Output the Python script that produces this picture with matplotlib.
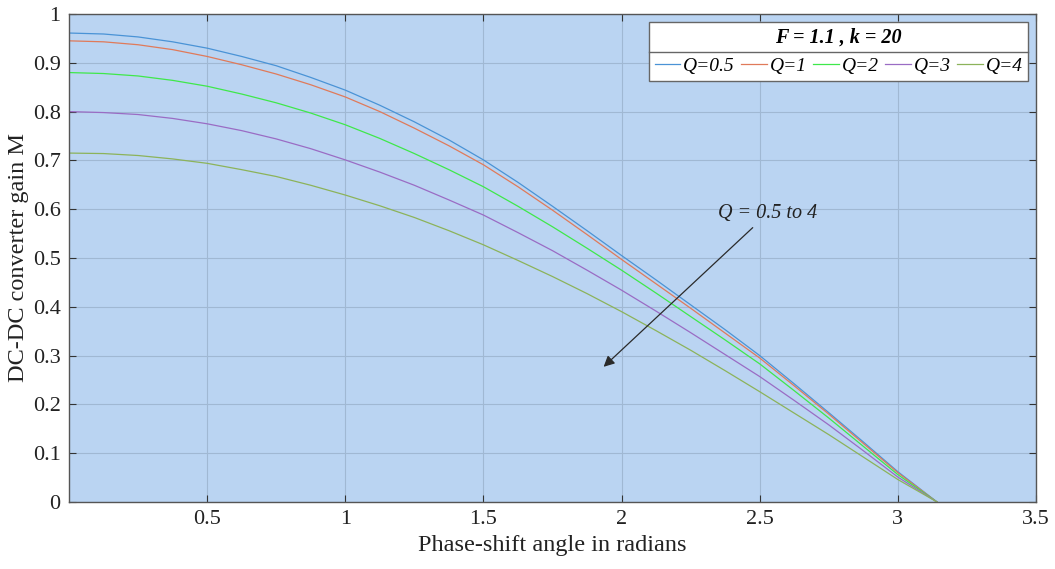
import matplotlib
matplotlib.use('Agg')
import matplotlib.pyplot as plt
from matplotlib.lines import Line2D
import numpy as np

# Times-like font
plt.rcParams['font.family'] = 'Liberation Serif'

# phase-shift angle samples (rad)
phi = [0, 0.125, 0.25, 0.375, 0.5, 0.625, 0.75, 0.875, 1.0, 1.125, 1.25, 1.375, 1.5,
       1.625, 1.75, 1.875, 2.0, 2.125, 2.25, 2.375, 2.5, 2.625, 2.75, 2.875, 3.0, np.pi]

# DC-DC gain M for each quality factor
m_q05 = [0.961, 0.959, 0.953, 0.943, 0.930, 0.913, 0.894, 0.870, 0.844, 0.813, 0.779, 0.742, 0.701,
         0.655, 0.606, 0.556, 0.505, 0.455, 0.404, 0.353, 0.300, 0.242, 0.183, 0.123, 0.062, 0.0]
m_q1 = [0.945, 0.943, 0.937, 0.927, 0.913, 0.896, 0.877, 0.855, 0.830, 0.800, 0.766, 0.730, 0.691,
        0.646, 0.598, 0.548, 0.497, 0.447, 0.397, 0.346, 0.295, 0.238, 0.180, 0.120, 0.060, 0.0]
m_q2 = [0.880, 0.878, 0.873, 0.864, 0.852, 0.836, 0.818, 0.797, 0.773, 0.745, 0.714, 0.681, 0.646,
        0.606, 0.564, 0.520, 0.475, 0.428, 0.380, 0.332, 0.283, 0.228, 0.172, 0.114, 0.056, 0.0]
m_q3 = [0.800, 0.798, 0.794, 0.786, 0.775, 0.761, 0.744, 0.724, 0.701, 0.676, 0.649, 0.619, 0.588,
        0.552, 0.515, 0.475, 0.434, 0.391, 0.347, 0.302, 0.257, 0.208, 0.158, 0.105, 0.051, 0.0]
m_q4 = [0.715, 0.714, 0.710, 0.703, 0.694, 0.681, 0.667, 0.649, 0.629, 0.607, 0.583, 0.556, 0.527,
        0.495, 0.462, 0.427, 0.390, 0.351, 0.311, 0.269, 0.226, 0.182, 0.138, 0.092, 0.046, 0.0]

series = [m_q05, m_q1, m_q2, m_q3, m_q4]
labels = ['Q=0.5', 'Q=1', 'Q=2', 'Q=3', 'Q=4']
colors = ['#4a93d6', '#e07a5a', '#3fe84a', '#9a6cc4', '#8cb35a']

xticks = [0.5, 1, 1.5, 2, 2.5, 3, 3.5]
yticks = [0, 0.1, 0.2, 0.3, 0.4, 0.5, 0.6, 0.7, 0.8, 0.9, 1]

fig = plt.figure(figsize=(10.55, 5.69), dpi=100)
ax = fig.add_axes([0.0654, 0.1178, 0.9166, 0.8576])
ax.set_facecolor('#bad4f2')

for m, lab, c in zip(series, labels, colors):
    ax.plot(phi, m, color=c, linewidth=0.9, label=lab)

ax.set_xlim(0, 3.5)
ax.set_ylim(0, 1)
ax.set_xticks(xticks)
ax.set_xticklabels([f'{t:g}' for t in xticks])
ax.set_yticks(yticks)
ax.set_yticklabels([f'{t:g}' for t in yticks])
ax.tick_params(direction='in', length=5, width=0.8, color='#333333', labelsize=16,
               top=True, right=True, labelcolor='#222222', pad=6)
ax.grid(True, color='#a0b8d3', linewidth=0.8)
for sp in ax.spines.values():
    sp.set_color('#555555')
    sp.set_linewidth(1.0)

ax.set_xlabel('Phase-shift angle in radians', fontsize=17.5, color='#222222', labelpad=4)
ax.set_ylabel('DC-DC converter gain M', fontsize=17.5, color='#222222', labelpad=3)

# annotation arrow
ax.annotate('Q = 0.5 to 4', xy=(1.935, 0.277), xytext=(2.35, 0.582),
            fontsize=14.5, style='italic', color='#222222',
            arrowprops=dict(arrowstyle='-|>', color='#2a2a2a', lw=0.9,
                            mutation_scale=16, shrinkA=2, shrinkB=0))

leg = ax.legend(ncol=5, loc='upper right', bbox_to_anchor=(0.992, 0.984),
                borderaxespad=0, title='F = 1.1 , k = 20',
                title_fontproperties={'size': 14.5, 'weight': 'bold', 'style': 'italic'},
                prop={'size': 14, 'style': 'italic'},
                handlelength=1.3, handletextpad=0.15, columnspacing=0.35,
                borderpad=0.3, fancybox=False, framealpha=1, edgecolor='#666666')
leg.get_frame().set_linewidth(1.0)

# separator line between legend title and entries
fig.canvas.draw()
lb = leg.get_window_extent()
tb = leg.get_title().get_window_extent()
ysep = (tb.y0 - 4) / fig.bbox.height
fig.add_artist(Line2D([lb.x0 / fig.bbox.width, lb.x1 / fig.bbox.width], [ysep, ysep],
                      color='#666666', linewidth=1.0))

fig.savefig('out.png', dpi=100)
